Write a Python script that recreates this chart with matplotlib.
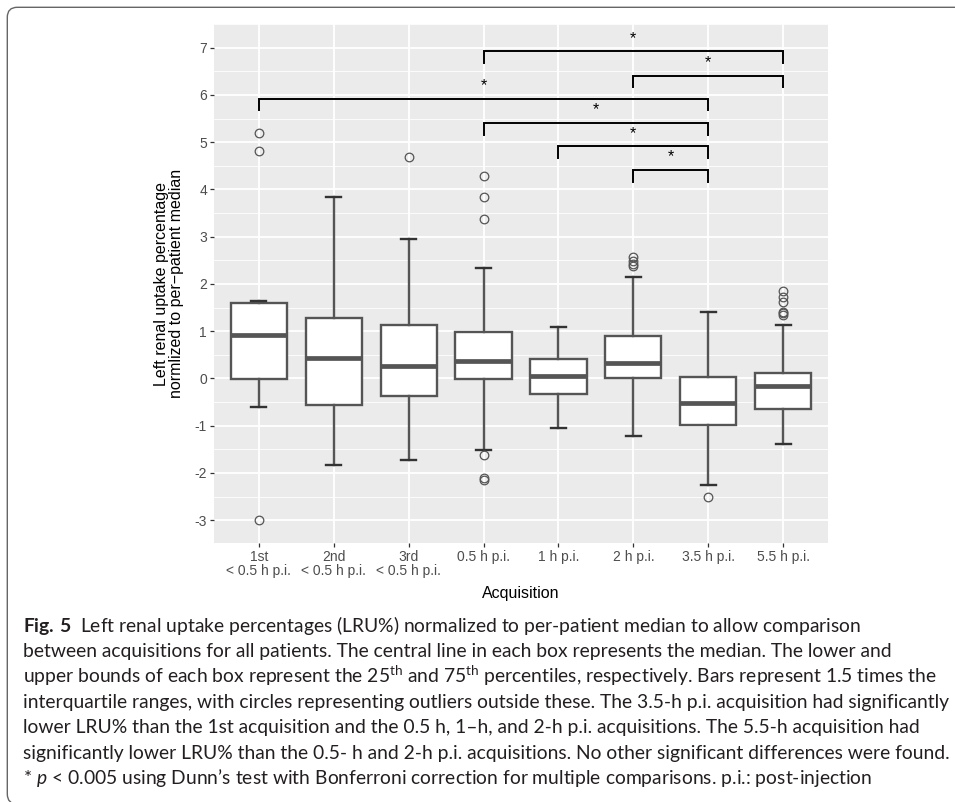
import matplotlib
matplotlib.use("Agg")
import matplotlib.pyplot as plt
from matplotlib import font_manager
from matplotlib.patches import FancyBboxPatch
from matplotlib.ticker import MultipleLocator

# acquisitions (x categories)
labels = ["1st\n< 0.5 h p.i.", "2nd\n< 0.5 h p.i.", "3rd\n< 0.5 h p.i.",
          "0.5 h p.i.", "1 h p.i.", "2 h p.i.", "3.5 h p.i.", "5.5 h p.i."]

# box statistics
whislo = [-0.60, -1.83, -1.72, -1.52, -1.06, -1.21, -2.26, -1.39]
q1 = [-0.01, -0.57, -0.38, -0.02, -0.34, 0.00, -0.98, -0.65]
med = [0.92, 0.43, 0.27, 0.37, 0.05, 0.32, -0.52, -0.17]
q3 = [1.60, 1.28, 1.13, 0.98, 0.42, 0.90, 0.04, 0.12]
whishi = [1.63, 3.83, 2.96, 2.33, 1.09, 2.15, 1.41, 1.12]
fliers = [[5.20, 4.82, -3.00],
          [],
          [4.68],
          [4.28, 3.83, 3.37, -1.62, -2.11, -2.15],
          [],
          [2.56, 2.49, 2.43, 2.37],
          [-2.52],
          [1.84, 1.72, 1.61, 1.41, 1.38, 1.35]]

# significance brackets: (from, to) category index and height
pairs = [(3, 7), (5, 7), (0, 6), (3, 6), (4, 6), (5, 6)]
bracket_y = [6.92, 6.41, 5.92, 5.41, 4.91, 4.41]

caption = [
    r"$\mathbf{Fig.\,5}$  Left renal uptake percentages (LRU%) normalized to per-patient median to allow comparison",
    "between acquisitions for all patients. The central line in each box represents the median. The lower and",
    r"upper bounds of each box represent the 25$^{\rm th}$ and 75$^{\rm th}$ percentiles, respectively. Bars represent 1.5 times the",
    "interquartile ranges, with circles representing outliers outside these. The 3.5-h p.i. acquisition had significantly",
    "lower LRU% than the 1st acquisition and the 0.5 h, 1–h, and 2-h p.i. acquisitions. The 5.5-h acquisition had",
    "significantly lower LRU% than the 0.5- h and 2-h p.i. acquisitions. No other significant differences were found.",
    r"* $p$ < 0.005 using Dunn’s test with Bonferroni correction for multiple comparisons. p.i.: post-injection",
]

fams = {f.name for f in font_manager.fontManager.ttflist}
cap_font = "Liberation Sans Narrow" if "Liberation Sans Narrow" in fams else "Lato"

plt.rcParams["font.family"] = ["Liberation Sans", "DejaVu Sans"]
plt.rcParams["axes.unicode_minus"] = False
plt.rcParams["mathtext.fontset"] = "custom"
plt.rcParams["mathtext.rm"] = cap_font
plt.rcParams["mathtext.it"] = cap_font + ":italic"
plt.rcParams["mathtext.bf"] = cap_font + ":bold"

W, H = 955, 802
fig = plt.figure(figsize=(W / 100, H / 100), dpi=100)
ax = fig.add_axes([214 / W, 1 - 543.3 / H, (828 - 214) / W, (543.3 - 24) / H])

stats = []
for i in range(len(labels)):
    stats.append(dict(med=med[i], q1=q1[i], q3=q3[i], whislo=whislo[i],
                      whishi=whishi[i], fliers=fliers[i]))

ax.bxp(stats, positions=range(len(labels)), widths=0.75, capwidths=0.2,
       patch_artist=True,
       boxprops=dict(facecolor="white", edgecolor="#555555", linewidth=1.7),
       medianprops=dict(color="#555555", linewidth=3.4, solid_capstyle="butt"),
       whiskerprops=dict(color="#555555", linewidth=1.7),
       capprops=dict(color="#333333", linewidth=1.7),
       flierprops=dict(marker="o", markerfacecolor="none", markeredgecolor="#555555",
                       markersize=6.2, markeredgewidth=0.9))

for (a, b), y in zip(pairs, bracket_y):
    ax.plot([a, a, b, b], [y - 0.25, y, y, y - 0.25], color="black", lw=1.4,
            solid_joinstyle="miter")
    ax.text((a + b) / 2, y + 0.12, "*", ha="center", va="bottom", fontsize=11.5)

ax.set_xlim(-0.6, 7.6)
ax.set_ylim(-3.49, 7.5)
ax.set_xticks(range(len(labels)))
ax.set_xticklabels(labels, linespacing=0.95)
ax.yaxis.set_major_locator(MultipleLocator(1))
ax.yaxis.set_minor_locator(MultipleLocator(0.5))
ax.set_facecolor("#EBEBEB")
ax.set_axisbelow(True)
ax.grid(which="major", color="white", lw=1.3)
ax.grid(which="minor", axis="y", color="white", lw=0.6)
for s in ax.spines.values():
    s.set_visible(False)
ax.tick_params(length=3, width=0.9, color="#333333", labelcolor="#4d4d4d",
               labelsize=10, pad=2)
ax.tick_params(which="minor", length=0)
ax.set_ylabel("Left renal uptake percentage\nnormlized to per\u2212patient median",
              fontsize=11.5, labelpad=7.5, linespacing=1.0)
ax.set_xlabel("Acquisition", fontsize=11.5, labelpad=6)

# caption
texts = []
for k, line in enumerate(caption):
    t = fig.text(23 / W, 1 - (632 + 25.3 * k) / H, line, family=cap_font,
                 fontsize=13, va="baseline", ha="left", color="#231f20")
    texts.append(t)
r = fig.canvas.get_renderer()
w = texts[3].get_window_extent(r).width
fs = 13 * 924 / w
for t in texts:
    t.set_fontsize(fs)

# page frame
frame = FancyBboxPatch((0.073, -0.02), 12, 7.967, boxstyle="round,pad=0,rounding_size=0.1",
                       transform=fig.dpi_scale_trans, facecolor="none",
                       edgecolor="#666666", lw=1.0, clip_on=False)
fig.patches.append(frame)

fig.savefig("out.png", dpi=100)
